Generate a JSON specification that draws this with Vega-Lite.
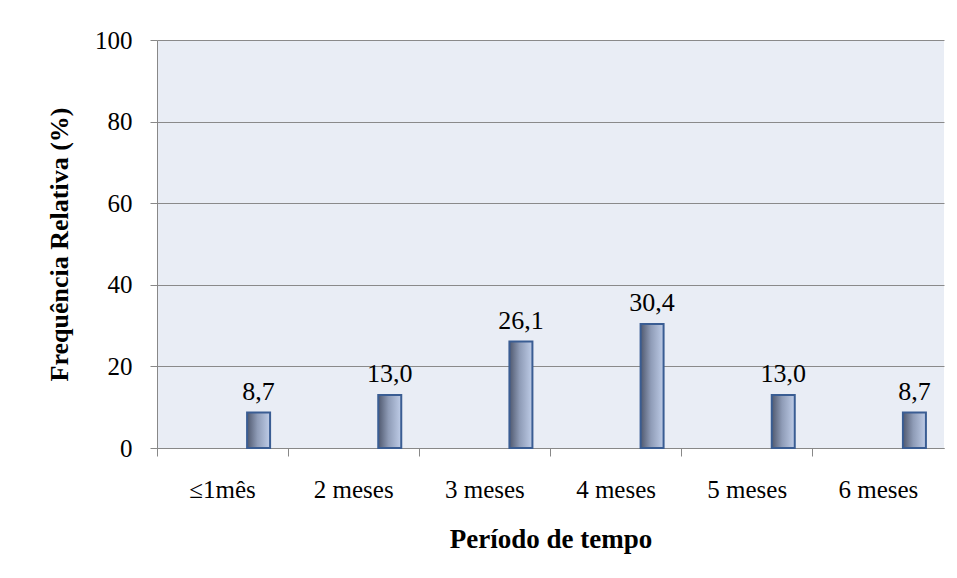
{
  "$schema": "https://vega.github.io/schema/vega-lite/v6.json",
  "width": 787,
  "height": 408,
  "autosize": {"type": "none"},
  "padding": {"left": 157, "top": 40, "right": 13, "bottom": 130},
  "background": "white",
  "config": {
    "locale": {"number": {"decimal": ",", "thousands": ".", "grouping": [3], "currency": ["", ""]}},
    "view": {"fill": "#e9edf5", "stroke": null},
    "font": "Liberation Serif",
    "axis": {"labelFont": "Liberation Serif", "titleFont": "Liberation Serif", "labelColor": "black", "titleColor": "black"}
  },
  "data": {
    "values": [
      {"periodo": "≤1mês", "freq": 8.7},
      {"periodo": "2 meses", "freq": 13.0},
      {"periodo": "3 meses", "freq": 26.1},
      {"periodo": "4 meses", "freq": 30.4},
      {"periodo": "5 meses", "freq": 13.0},
      {"periodo": "6 meses", "freq": 8.7}
    ]
  },
  "encoding": {
    "x": {
      "field": "periodo", "type": "nominal", "sort": null,
      "scale": {"paddingInner": 0, "paddingOuter": 0},
      "axis": {
        "title": "Período de tempo", "titleFontSize": 27, "titleFontWeight": "bold", "titlePadding": 24,
        "labelAngle": 0, "labelFontSize": 25, "labelPadding": 21, "bandPosition": 0,
        "tickSize": 8, "tickColor": "#888888", "domainColor": "#888888", "grid": false
      }
    },
    "y": {
      "field": "freq", "type": "quantitative",
      "scale": {"domain": [0, 100]},
      "axis": {
        "title": "Frequência Relativa (%)", "titleFontSize": 26, "titleFontWeight": "bold", "titlePadding": 22,
        "values": [0, 20, 40, 60, 80, 100], "labelFontSize": 25, "labelPadding": 18,
        "tickSize": 7, "tickColor": "#888888", "domainColor": "#888888", "gridColor": "#8a8a8a", "gridOpacity": 1
      }
    }
  },
  "layer": [
    {
      "mark": {
        "type": "bar", "width": 23, "xOffset": 36,
        "color": {"gradient": "linear", "x1": 0, "x2": 1, "y1": 0, "y2": 0,
          "stops": [{"offset": 0, "color": "#4f586e"}, {"offset": 0.45, "color": "#8f9cb7"}, {"offset": 1, "color": "#bfcde8"}]},
        "stroke": "#3a5d93", "strokeWidth": 2
      }
    },
    {
      "mark": {"type": "text", "xOffset": 36, "dy": -13, "baseline": "alphabetic", "fontSize": 26, "font": "Liberation Serif", "color": "black"},
      "encoding": {"text": {"field": "freq", "type": "quantitative", "format": ".1f"}}
    }
  ]
}
